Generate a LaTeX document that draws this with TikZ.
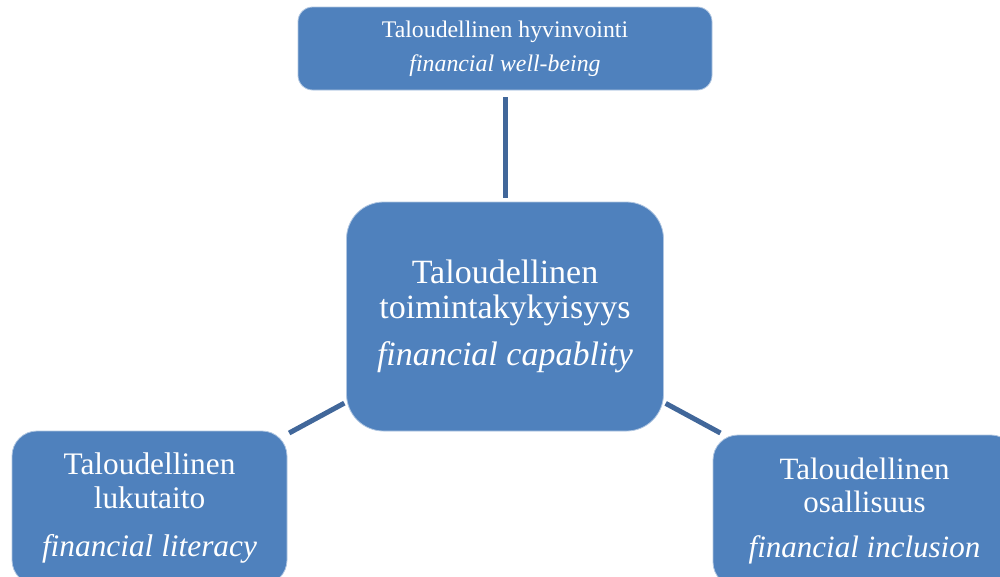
\documentclass[tikz,border=0pt]{standalone}
\usepackage{fontspec}
\setmainfont{Liberation Serif}
\definecolor{boxblue}{HTML}{4F81BD}
\definecolor{linkblue}{HTML}{41679A}
\tikzset{
  box/.style={rectangle, fill=boxblue, draw=white!55!boxblue, line width=0.6pt,
    text=white, align=center, inner sep=0pt},
  link/.style={draw=linkblue, line width=3.75pt},
}

\begin{document}
\begin{tikzpicture}[x=0.75pt,y=-0.75pt]
  \useasboundingbox (0,0) rectangle (1000,576);
  \clip (0,0) rectangle (1000,576);

  % boxes
  \node[box, rounded corners=11pt, minimum width=310.5pt, minimum height=62.25pt,
    font=\fontsize{17.85}{25.5}\selectfont] at (505,48.5) (WELL)
    {Taloudellinen hyvinvointi\\\textit{financial well-being}};
  \node[box, rounded corners=27.75pt, minimum width=237.75pt, minimum height=171.75pt,
    font=\fontsize{25.5}{26.25}\selectfont] at (505,316.5) (CAP)
    {Taloudellinen\\toimintakykyisyys\\[9pt]\textit{financial capablity}};
  \node[box, rounded corners=18.75pt, minimum width=206.25pt, minimum height=115.5pt,
    font=\fontsize{23.5}{25.5}\selectfont] at (149.5,508) (LIT)
    {Taloudellinen\\lukutaito\\[10.5pt]\textit{financial literacy}};
  \node[box, rounded corners=18.75pt, minimum width=227.25pt, minimum height=114pt,
    font=\fontsize{23.25}{24.75}\selectfont] at (864.5,511) (INC)
    {Taloudellinen\\osallisuus\\[9pt]\textit{financial inclusion}};

  % connectors
  \draw[link, shorten <=3pt, shorten >=5.25pt] (CAP) -- (WELL);
  \draw[link, shorten <=1.5pt, shorten >=1.5pt] (CAP) -- (LIT);
  \draw[link, shorten <=1.5pt, shorten >=2.5pt] (CAP) -- (INC);
\end{tikzpicture}
\end{document}
